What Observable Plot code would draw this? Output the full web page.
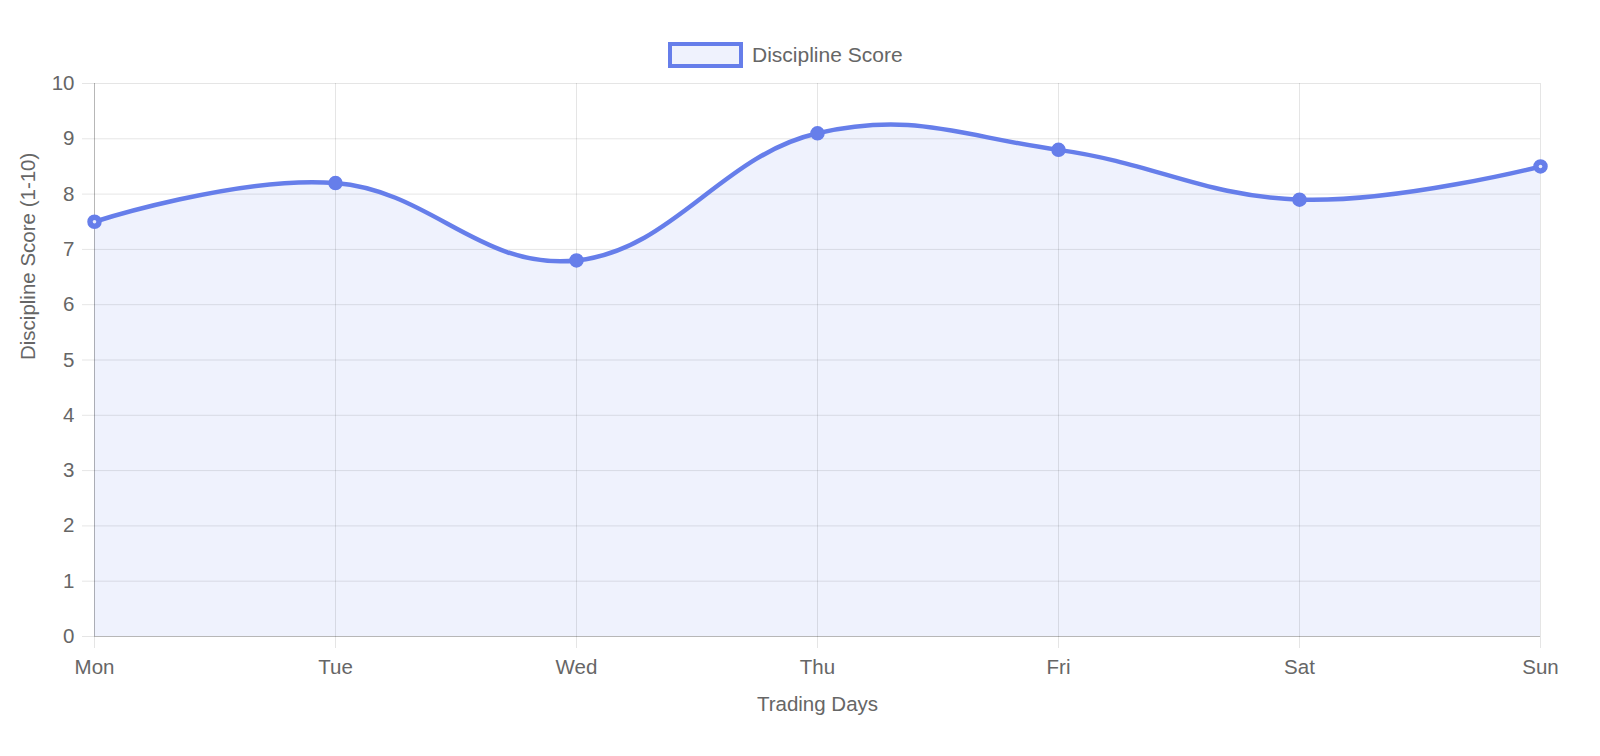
<!DOCTYPE html>
<html><head><meta charset="utf-8">
<script src="https://cdn.jsdelivr.net/npm/d3@7"></script>
<script src="https://cdn.jsdelivr.net/npm/@observablehq/plot@0.6"></script>
<style>
html,body{margin:0;background:#fff;font-family:"Liberation Sans",Arial,sans-serif;overflow:hidden;}
#legend{height:66px;position:relative;}
#legend .sw{position:absolute;left:668px;top:42px;width:67px;height:18px;border:4px solid #667eea;background:rgba(102,126,234,0.1);}
#legend .lb{position:absolute;left:752px;top:42px;font-size:21px;color:#666;line-height:26px;}
#chart svg{display:block;}
</style></head>
<body>
<div id="legend"><div class="sw"></div><div class="lb">Discipline Score</div></div>
<div id="chart"></div>
<script>
const days = ["Mon","Tue","Wed","Thu","Fri","Sat","Sun"];
const scores = [7.5, 8.2, 6.8, 9.1, 8.8, 7.9, 8.5];
const yTicks = [0,1,2,3,4,5,6,7,8,9,10];
const seriesName = "Discipline Score";
const xTitle = "Trading Days";
const yTitle = "Discipline Score (1-10)";

const data = days.map((d,i)=>({day:d, score:scores[i]}));
const edges = data.filter((d,i)=> i === 0 || i === data.length - 1);
const curve = d3.curveCardinal.tension(-0.2);
const color = "#667eea";
const fs = 20.5;

const chart = Plot.plot({
  width: 1600, height: 690,
  marginLeft: 94, marginRight: 60, marginTop: 17, marginBottom: 120,
  style: {fontFamily: '"Liberation Sans", Arial, sans-serif', fontSize: fs + "px", color: "#666", background: "#fff"},
  x: {type: "point", domain: days, padding: 0, label: null},
  y: {domain: [0, 10], label: null},
  marks: [
    Plot.areaY(data, {x: "day", y: "score", curve, fill: "rgba(102,126,234,0.1)"}),
    Plot.gridX(days, {stroke: "#000", strokeOpacity: 0.1, strokeWidth: 1}),
    Plot.gridY(yTicks, {stroke: "#000", strokeOpacity: 0.1, strokeWidth: 1}),
    Plot.axisX(days, {tickSize: 12, tickPadding: 11, stroke: "#000", strokeOpacity: 0.1, fill: "#666", fontSize: fs, label: null}),
    Plot.axisY(yTicks, {tickSize: 12, tickPadding: 8, stroke: "#000", strokeOpacity: 0.1, fill: "#666", fontSize: fs, label: null, tickFormat: d => String(d)}),
    Plot.ruleY([0], {stroke: "#000", strokeOpacity: 0.2}),
    Plot.ruleX(["Mon"], {y1: 0, y2: 10, stroke: "#000", strokeOpacity: 0.2}),
    Plot.lineY(data, {x: "day", y: "score", curve, stroke: color, strokeWidth: 4.5}),
    Plot.dot(data, {x: "day", y: "score", r: 6.5, fill: color, stroke: color, strokeWidth: 1.5}),
    Plot.dot(edges, {x: "day", y: "score", r: 1.8, fill: "#fff", fillOpacity: 0.85}),
    Plot.text([xTitle], {frameAnchor: "bottom", dy: 74, fill: "#666", fontSize: fs}),
    Plot.text([yTitle], {frameAnchor: "left", dx: -66, rotate: -90, fill: "#666", fontSize: fs})
  ]
});
document.getElementById("chart").appendChild(chart);
</script>
</body></html>
